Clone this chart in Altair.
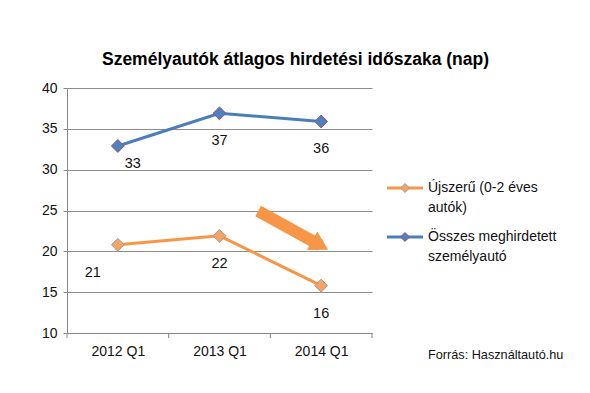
import altair as alt
import pandas as pd

periods = ["2012 Q1", "2013 Q1", "2014 Q1"]
period_idx = [0, 1, 2]
series_new = "Újszerű (0-2 éves autók)"
series_all = "Összes meghirdetett személyautó"
legend_new = "Újszerű (0-2 éves|autók)"
legend_all = "Összes meghirdetett|személyautó"
values_new = [20.8, 21.9, 15.8]
values_all = [32.9, 36.9, 35.9]
title_text = "Személyautók átlagos hirdetési időszaka (nap)"
source_text = "Forrás: Használtautó.hu"
category_edges = [-0.5, 0.5, 1.5, 2.5]

# annotation arrow (data coordinates)
arrow_x = [1.38, 1.99]
arrow_y = [24.95, 20.75]

FONT = "Liberation Sans"
ORANGE = "#F79646"
BLUE = "#4A7EBB"
ORANGE_FILL = "#F6A466"
BLUE_FILL = "#4F81BD"
ORANGE_EDGE = "#9C9C9C"
BLUE_EDGE = "#8E4F7F"

rows = []
for i, p, v in zip(period_idx, periods, values_new):
    rows.append({"idx": i, "period": p, "series": series_new, "value": v})
for i, p, v in zip(period_idx, periods, values_all):
    rows.append({"idx": i, "period": p, "series": series_all, "value": v})
df = pd.DataFrame(rows)

label_expr = " : ".join([f"datum.value == {i} ? '{p}'" for i, p in zip(period_idx, periods)]) + " : ''"

x_enc = alt.X(
    "idx:Q",
    scale=alt.Scale(domain=[-0.5, 2.5], nice=False, zero=False),
    axis=alt.Axis(
        values=period_idx, labelExpr=label_expr, ticks=False,
        labelFlush=False, labelOverlap=False, title=None, grid=False,
        domainColor="#868686",
        labelFont=FONT, labelFontSize=14, labelColor="#111", labelPadding=11,
    ),
)
y_enc = alt.Y(
    "value:Q",
    scale=alt.Scale(domain=[10, 40], nice=False, zero=False),
    axis=alt.Axis(
        values=[10, 15, 20, 25, 30, 35, 40], title=None, grid=True,
        gridColor="#8C8C8C", domainColor="#868686", tickColor="#868686", tickSize=4,
        labelFont=FONT, labelFontSize=14, labelColor="#111", labelPadding=6,
    ),
)

base = alt.Chart(df)
lines = base.mark_line(strokeWidth=3).encode(
    x=x_enc, y=y_enc,
    color=alt.Color("series:N", scale=alt.Scale(domain=[series_new, series_all], range=[ORANGE, BLUE]), legend=None),
)
points = base.mark_point(shape="diamond", filled=True, size=165, strokeWidth=1, opacity=1).encode(
    x="idx:Q", y="value:Q",
    fill=alt.Fill("series:N", scale=alt.Scale(domain=[series_new, series_all], range=[ORANGE_FILL, BLUE_FILL]), legend=None),
    stroke=alt.Stroke("series:N", scale=alt.Scale(domain=[series_new, series_all], range=[ORANGE_EDGE, BLUE_EDGE]), legend=None),
)

ticks_df = pd.DataFrame({"edge": category_edges})
x_ticks = alt.Chart(ticks_df).mark_rule(color="#868686", strokeWidth=1).encode(
    x="edge:Q", y=alt.value(245), y2=alt.value(250)
)

text_style = dict(font=FONT, fontSize=14.5, color="#111", baseline="middle")
labels_mid = base.mark_text(dy=28, **text_style).encode(
    x="idx:Q", y="value:Q", text=alt.Text("value:Q", format=".0f")
).transform_filter("datum.idx > 0")
labels_first_all = base.mark_text(dx=15, dy=18, **text_style).encode(
    x="idx:Q", y="value:Q", text=alt.Text("value:Q", format=".0f")
).transform_filter(f"datum.idx == 0 && datum.series == '{series_all}'")
labels_first_new = base.mark_text(dx=-25, dy=28, **text_style).encode(
    x="idx:Q", y="value:Q", text=alt.Text("value:Q", format=".0f")
).transform_filter(f"datum.idx == 0 && datum.series == '{series_new}'")

arrow_df = pd.DataFrame({"x": [arrow_x[0]], "y": [arrow_y[0]], "x2": [arrow_x[1]], "y2": [arrow_y[1]]})
arrow_shaft = alt.Chart(arrow_df).mark_rule(strokeWidth=12, color=ORANGE, strokeCap="butt").encode(
    x="x:Q", y="y:Q", x2="x2:Q", y2="y2:Q"
)
arrow_head = alt.Chart(arrow_df).mark_point(
    shape="triangle-right", filled=True, size=450, angle=29, color=ORANGE, opacity=1
).encode(x="x2:Q", y="y2:Q")


# manual legend (two entries, multi-line labels)
def legend_item(label, line_color, fill, edge, ypos):
    d = alt.Chart(pd.DataFrame({"t": [label]}))
    sym_line = d.mark_rule(color=line_color, strokeWidth=3).encode(
        x=alt.value(320), x2=alt.value(356), y=alt.value(ypos)
    )
    sym_pt = d.mark_point(shape="diamond", filled=True, size=80, fill=fill, stroke=edge,
                          strokeWidth=1, opacity=1).encode(x=alt.value(338), y=alt.value(ypos))
    txt = d.mark_text(font=FONT, fontSize=14, color="#111", align="left", baseline="middle",
                      lineBreak="|", lineHeight=20).encode(
        text="t:N", x=alt.value(361), y=alt.value(ypos)
    )
    return [sym_line, sym_pt, txt]


legend_layers = legend_item(legend_new, ORANGE, ORANGE_FILL, ORANGE_EDGE, 100) + \
    legend_item(legend_all, BLUE, BLUE_FILL, BLUE_EDGE, 149)

source = alt.Chart(pd.DataFrame({"t": [source_text]})).mark_text(
    font=FONT, fontSize=12.7, color="#111", align="left", baseline="middle"
).encode(text="t:N", x=alt.value(361), y=alt.value(267))

chart = alt.layer(
    lines, x_ticks, arrow_shaft, arrow_head, points, labels_mid, labels_first_all, labels_first_new,
    *legend_layers, source
).properties(
    width=305, height=245,
    title=alt.TitleParams(title_text, font=FONT, fontSize=17.5, fontWeight="bold", color="#000",
                          anchor="middle", dx=76, offset=13),
    autosize=alt.AutoSizeParams(type="none"),
    padding={"left": 59, "top": 80, "right": 210, "bottom": 52},
    background="white",
).configure_view(stroke=None)

chart.save("out.html", embed_options={"renderer": "svg", "actions": False})
